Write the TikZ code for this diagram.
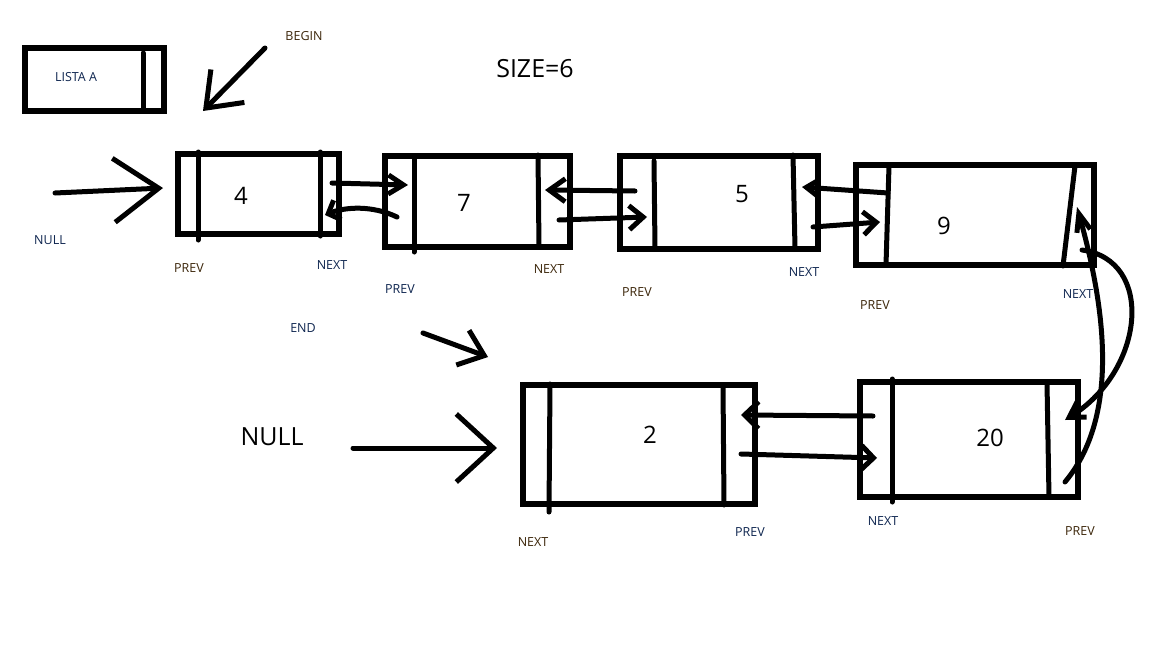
\documentclass[tikz,border=0pt]{standalone}
\usepackage{fontspec}
\setmainfont{Open Sans}
\usetikzlibrary{arrows.meta}
\definecolor{lblbrown}{RGB}{60,38,10}
\definecolor{lblnavy}{RGB}{15,38,80}
\tikzset{
  pen/.style={line width=5pt, line cap=round, line join=round, black},
  box/.style={draw, line width=5.5pt, rectangle, inner sep=0pt, black},
  lbl/.style={font=\fontsize{12.5}{14}\selectfont, inner sep=0pt},
  lb/.style={lbl, text=lblbrown},
  ln/.style={lbl, text=lblnavy},
  num/.style={font=\fontsize{24}{28}\selectfont, inner sep=0pt},
  big/.style={font=\fontsize{25}{30}\selectfont, inner sep=0pt},
}
\begin{document}
\begin{tikzpicture}[x=1pt,y=-1pt]
\useasboundingbox[fill=white] (0,0) rectangle (1152,648);

% LISTA A
\node[box, minimum width=139pt, minimum height=63pt] (lista) at (94.5,79.5) {};
\draw[pen] (143,53) -- (143,108);
\node[ln] (listalbl) at (76,77) {LISTA A};

% list boxes
\node[box, minimum width=161pt, minimum height=80pt] (b4) at (258.5,194) {};
\node[box, minimum width=185pt, minimum height=91pt] (b7) at (477.5,201.5) {};
\node[box, minimum width=198pt, minimum height=93pt] (b5) at (719,202.5) {};
\node[box, minimum width=238pt, minimum height=100pt] (b9) at (975,215) {};
\node[box, minimum width=218pt, minimum height=115pt] (b20) at (969,439.5) {};
\node[box, minimum width=232pt, minimum height=119pt] (b2) at (639,444.5) {};

% compartment dividers
\draw[pen] (198,152) -- (198,240);
\draw[pen] (320,152) -- (320,236);
\draw[pen] (414,158) -- (414,252);
\draw[pen] (538,155) -- (539,246);
\draw[pen] (654,161) -- (655,248);
\draw[pen] (793,155) -- (795,248);
\draw[pen] (889,166) -- (886,265);
\draw[pen] (1075,166) -- (1063,266);
\draw[pen] (892,379) -- (892,502);
\draw[pen] (1047,383) -- (1049,497);
\draw[pen] (550,384) -- (549,512);
\draw[pen] (723,385) -- (724,505);

% values
\node[num] (v4) at (241,196) {4};
\node[num] (v7) at (464,203) {7};
\node[num] (v5) at (742,194) {5};
\node[num] (v9) at (944,226) {9};
\node[num] (v20) at (990,438) {20};
\node[num] (v2) at (650,435) {2};

% texts
\node[lb] (begin) at (304,36) {BEGIN};
\node[big] (size) at (535,69) {SIZE=6};
\node[ln] (null1) at (50,240) {NULL};
\node[big] (null2) at (272,437) {NULL};
\node[ln] (endl) at (303,328) {END};

\node[lb] (p4) at (189,268) {PREV};
\node[ln] (n4) at (332,265) {NEXT};
\node[ln] (p7) at (400,289) {PREV};
\node[lb] (n7) at (549,269) {NEXT};
\node[lb] (p5) at (637,292) {PREV};
\node[ln] (n5) at (804,272) {NEXT};
\node[lb] (p9) at (875,305) {PREV};
\node[ln] (n9) at (1078,294) {NEXT};
\node[lb] (n2) at (533,542) {NEXT};
\node[ln] (p2) at (750,532) {PREV};
\node[ln] (n20) at (883,521) {NEXT};
\node[lb] (p20) at (1080,531) {PREV};

% arrow end points
\coordinate (bgS) at (265,48);   \coordinate (bgT) at (203,111);
\coordinate (nlS) at (55,193);   \coordinate (nlT) at (163,188);
\coordinate (a1S) at (332,183);  \coordinate (a1T) at (408,185);
\coordinate (a2S) at (397,217);  \coordinate (a2T) at (325,215);
\coordinate (a3S) at (635,191);  \coordinate (a3T) at (545,190);
\coordinate (a4S) at (559,220);  \coordinate (a4T) at (647,217);
\coordinate (a5S) at (888,193);  \coordinate (a5T) at (802,187);
\coordinate (a6S) at (813,227);  \coordinate (a6T) at (880,222);
\coordinate (a7S) at (873,416);  \coordinate (a7T) at (741,415);
\coordinate (a8S) at (741,454);  \coordinate (a8T) at (877,458);
\coordinate (enS) at (423,333);  \coordinate (enT) at (488,357);
\coordinate (n2S) at (353,448);  \coordinate (n2T) at (497,448);
\coordinate (c1S) at (1065,482); \coordinate (c1T) at (1077,207);
\coordinate (c2S) at (1082,250); \coordinate (c2T) at (1065,420);

\draw[pen, -{Straight Barb[length=31pt,width=47pt]}] (bgS) -- (bgT);
\draw[pen, -{Straight Barb[length=45pt,width=64pt]}] (nlS) -- (nlT);
\draw[pen, -{Straight Barb[length=15pt,width=19pt]}] (a1S) -- (a1T);
\draw[pen, -{Straight Barb[length=10pt,width=21pt]}] (a2S) .. controls (372,205) and (345,207) .. (a2T);
\draw[pen, -{Straight Barb[length=16pt,width=23pt]}] (a3S) -- (a3T);
\draw[pen, -{Straight Barb[length=14pt,width=24pt]}] (a4S) -- (a4T);
\draw[pen, -{Straight Barb[length=11pt,width=15pt]}] (a5S) -- (a5T);
\draw[pen, -{Straight Barb[length=13pt,width=23pt]}] (a6S) -- (a6T);
\draw[pen, -{Straight Barb[length=14pt,width=27pt]}] (a7S) -- (a7T);
\draw[pen, -{Straight Barb[length=12pt,width=24pt]}] (a8S) -- (a8T);
\draw[pen, -{Straight Barb[length=23pt,width=37pt]}] (enS) -- (enT);
\draw[pen, -{Straight Barb[length=37pt,width=68pt]}] (n2S) -- (n2T);
\draw[pen, -{Straight Barb[length=18pt,width=14pt]}] (c1S) .. controls (1125,410) and (1100,290) .. (c1T);
\draw[pen, -{Straight Barb[length=15pt,width=18pt]}] (c2S) .. controls (1155,260) and (1145,370) .. (c2T);
\end{tikzpicture}
\end{document}
